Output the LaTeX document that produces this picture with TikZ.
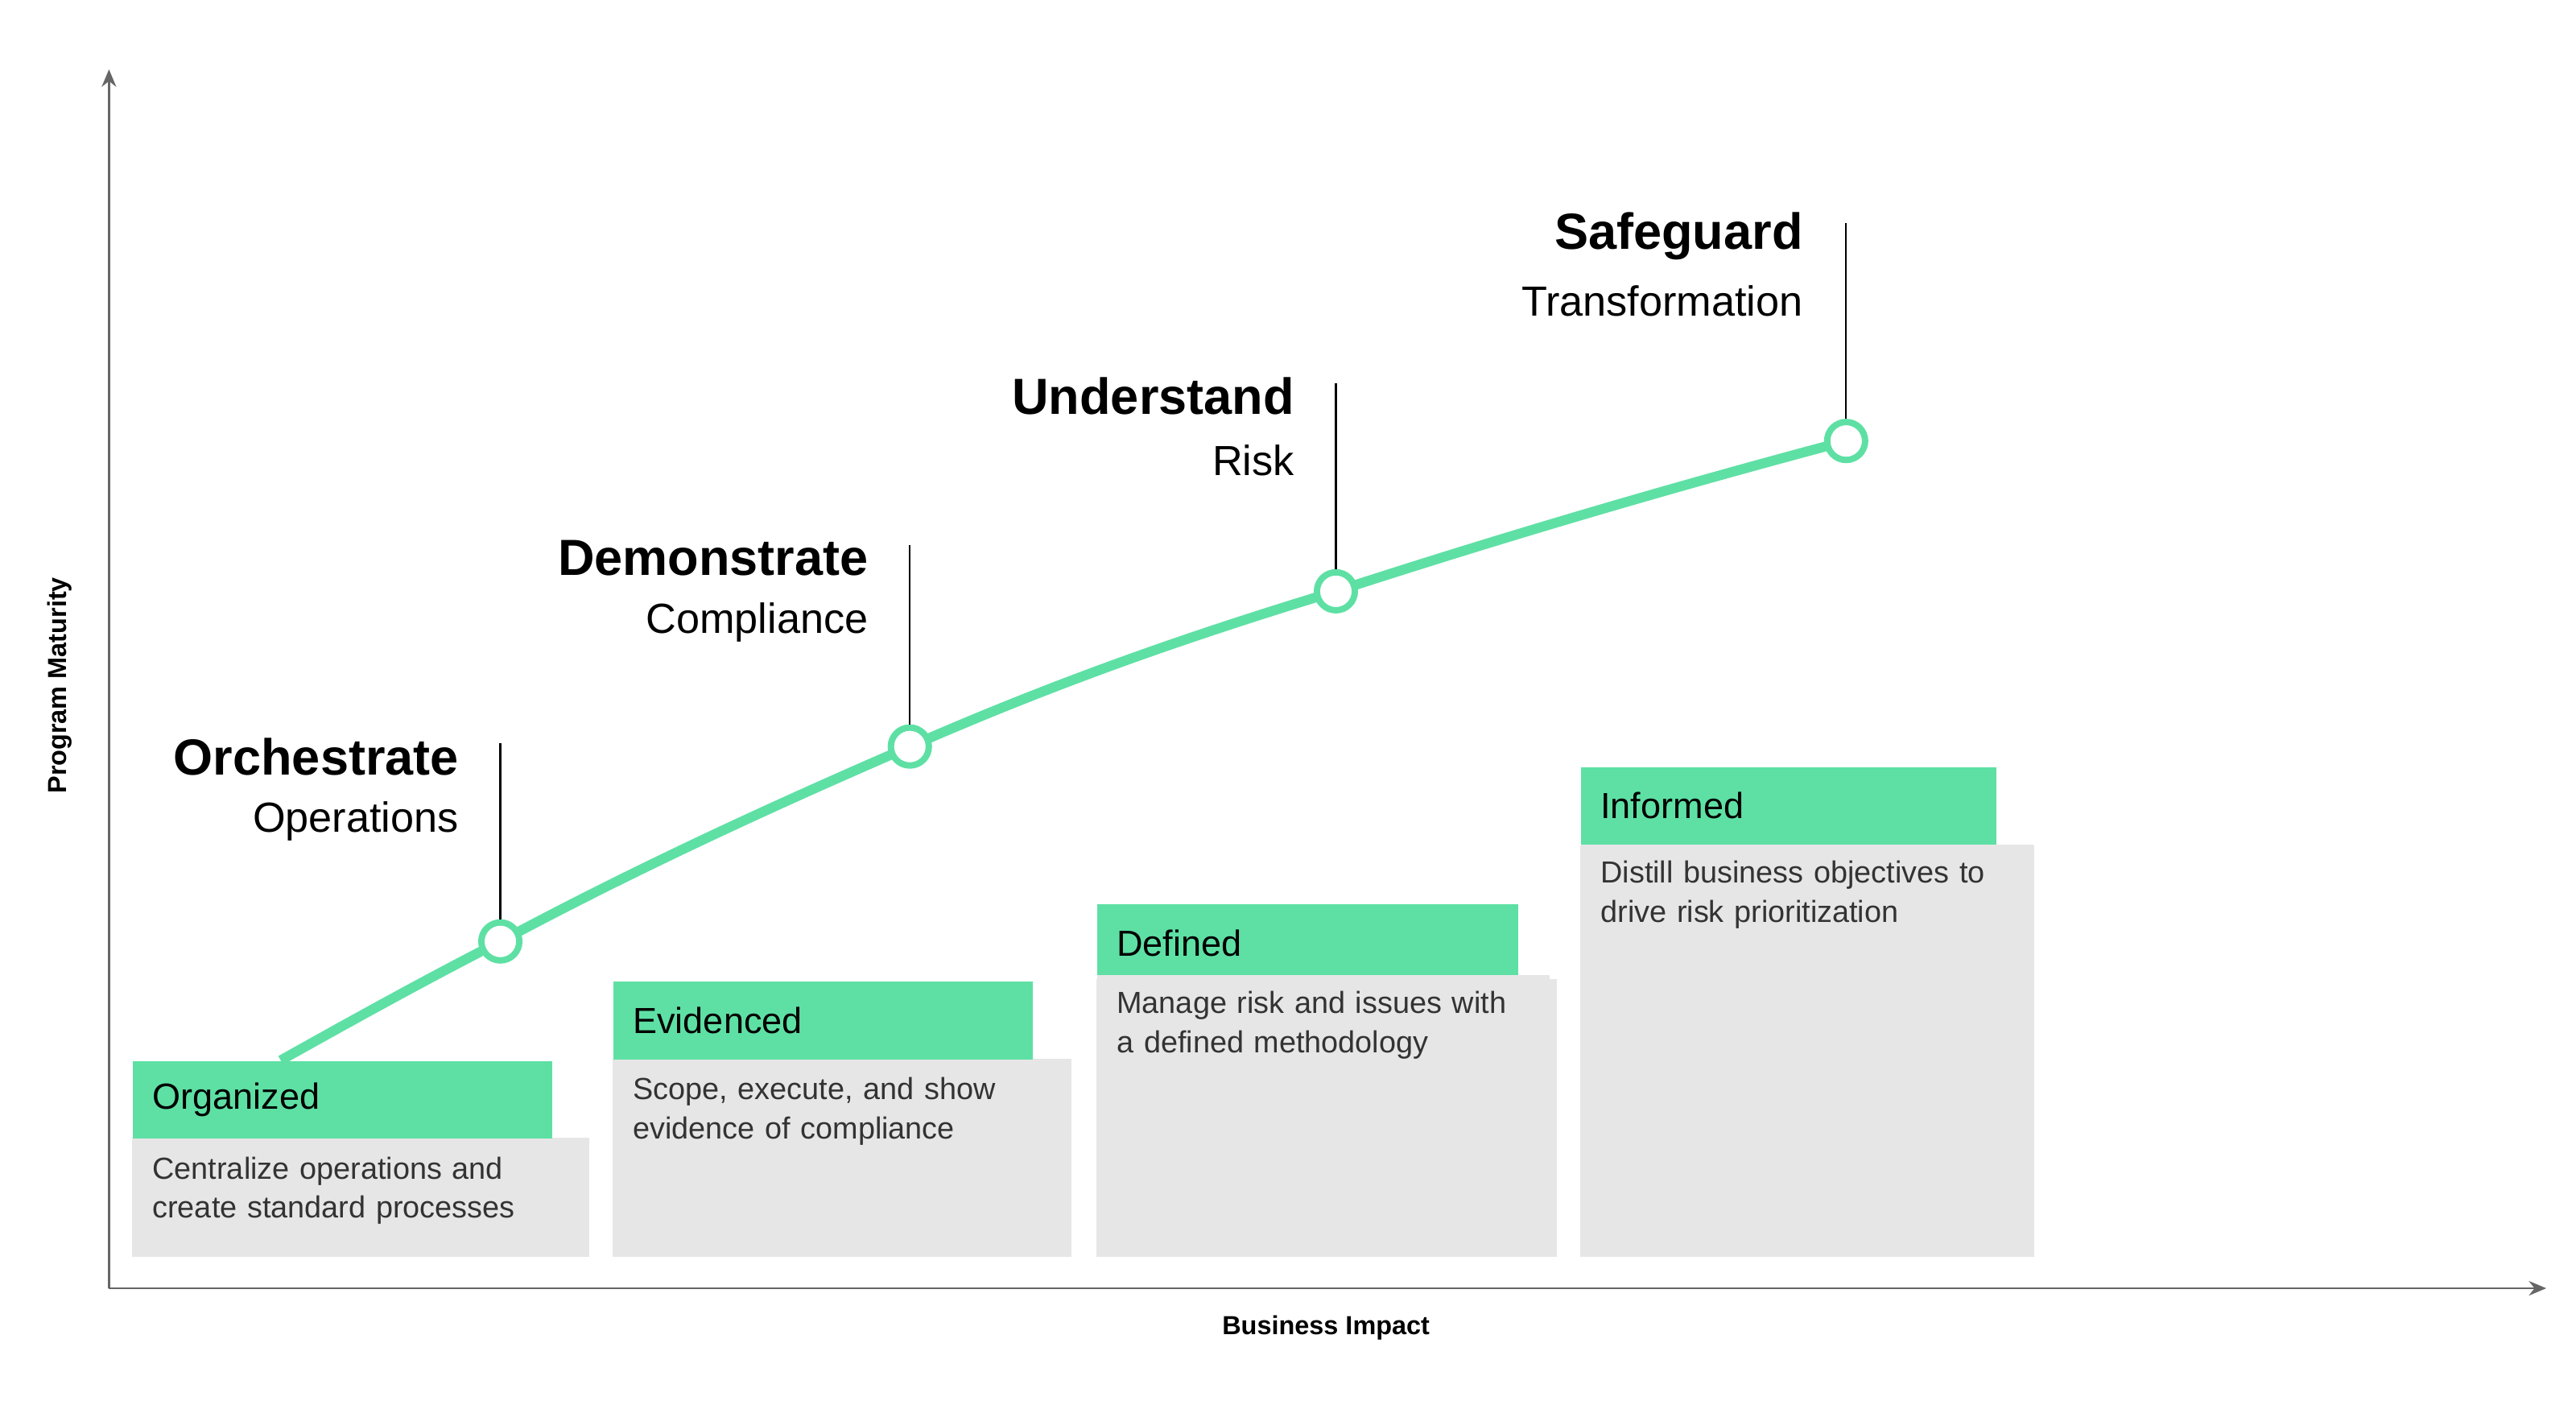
\documentclass[tikz,border=0pt]{standalone}
\usepackage{fontspec}
\setmainfont{Liberation Sans}
\usetikzlibrary{arrows.meta}
\definecolor{mint}{HTML}{5EE0A4}
\definecolor{boxgray}{HTML}{E6E6E6}
\definecolor{axisgray}{HTML}{666666}
\definecolor{bodytext}{HTML}{333333}
\tikzset{
  head/.style={fill=mint,draw=none,anchor=north west,minimum height=0.94cm,inner xsep=0.24cm,text width=#1,align=left,font=\fontsize{12.5}{14}\selectfont},
  body/.style={fill=boxgray,draw=none,anchor=north west,inner xsep=0.24cm,inner ysep=0.2cm,text width=#1,align=left,font=\fontsize{10.5}{13.5}\selectfont,text=bodytext},
  stage/.style={circle,draw=mint,fill=white,line width=2.2pt,minimum size=0.46cm,inner sep=0pt},
  ttl/.style={anchor=east,font=\bfseries\fontsize{17.5}{20}\selectfont},
  sub/.style={anchor=east,font=\fontsize{14.5}{17}\selectfont}
}
\begin{document}
\begin{tikzpicture}[x=0.02cm,y=-0.02cm]
\useasboundingbox (0,0) rectangle (1560,848);
% axes
\coordinate (o) at (66,780);
\coordinate (ytop) at (66,42);
\coordinate (xend) at (1542,780);
\draw[axisgray,line width=0.8pt,-{Stealth[length=6pt,width=5pt]}] (o) -- (ytop);
\draw[axisgray,line width=0.8pt,-{Stealth[length=6pt,width=5pt]}] (o) -- (xend);
\node[rotate=90,font=\bfseries\fontsize{9}{10}\selectfont] (ylab) at (36,415) {Program Maturity};
\node[font=\bfseries\fontsize{9}{10}\selectfont] (xlab) at (803,804) {Business Impact};
% boxes
\fill[boxgray] (80,689) rectangle (357,761);
\fill[boxgray] (371,641) rectangle (649,761);
\fill[boxgray] (664,593) rectangle (943,761);
\fill[boxgray] (957,512) rectangle (1232,761);
\node[head=4.6cm] (h1) at (80,642) {Organized};
\node[head=4.6cm] (h2) at (371,594) {Evidenced};
\node[head=4.62cm] (h3) at (664,547) {Defined};
\node[head=4.55cm] (h4) at (957,464) {Informed};
\node[body=5cm] (b1) at (80,690) {Centralize operations and create standard processes};
\node[body=5cm] (b2) at (371,642) {Scope, execute, and show evidence of compliance};
\node[body=5cm] (b3) at (664,590) {Manage risk and issues with a defined methodology};
\node[body=5cm] (b4) at (957,511) {Distill business objectives to drive risk prioritization};
% curve
\coordinate (start) at (170,642);
\draw[mint,line width=3.4pt] (start) .. controls (220,614) and (260,592) .. (303,570)
  .. controls (385,526) and (470,487) .. (551,452)
  .. controls (640,413) and (720,385) .. (809,358)
  .. controls (920,322) and (1020,293) .. (1118,267);
% stages
\foreach \n/\x/\y/\top/\tx/\t/\s in {
  1/303/570/450/284/Orchestrate/Operations,
  2/551/452/330/532/Demonstrate/Compliance,
  3/809/358/232/790/Understand/Risk,
  4/1118/267/135/1098/Safeguard/Transformation}{
  \coordinate (l\n) at (\x,\top);
  \node[stage] (s\n) at (\x,\y) {};
  \draw[line width=0.6pt] (s\n) -- (l\n);
  \node[ttl] (t\n) at (\tx,\top+8) {\t};
  \node[sub] (u\n) at (\tx,\top+47) {\s};
}
\end{tikzpicture}
\end{document}
